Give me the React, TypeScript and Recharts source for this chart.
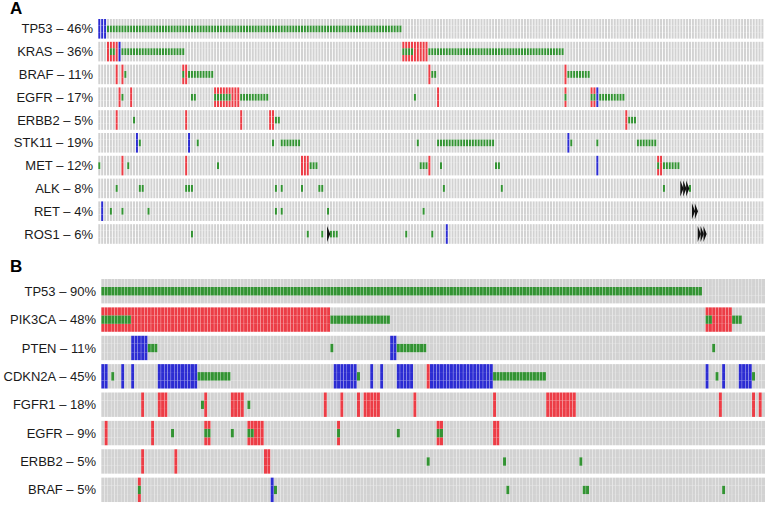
import { Bar, BarChart, XAxis, YAxis } from "recharts";

type Spec = (number | [number, number])[];

// Panel A: 230 samples, 10 genes
const GENES_A = ["TP53", "KRAS", "BRAF", "EGFR", "ERBB2", "STK11", "MET", "ALK", "RET", "ROS1"];
const PCT_A = [46, 36, 11, 17, 5, 19, 12, 8, 4, 6];
const SAMPLES_A = 230;
const AMP_A: Spec[] = [
  [],
  [[3, 6], [105, 113]],
  [6, 8, [29, 30], 114, 161],
  [7, 11, [40, 48], 117, 161, [170, 171]],
  [6, 30, 49, [59, 60], 182],
  [],
  [8, 30, [70, 72], 114, [193, 194]],
  [],
  [],
  [],
];
const DEL_A: Spec[] = [[[0, 2]], [7], [], [172], [], [13, 31, 162], [172], [], [1], [120]];
const MUT_A: Spec[] = [
  [[3, 104]],
  [[4, 5], [8, 29], [105, 108], [114, 160]],
  [9, 29, [31, 39], [115, 116], [162, 169]],
  [8, [32, 33], [40, 45], [49, 58], 109, 161, [170, 171], [173, 181]],
  [12, [61, 62], [183, 185]],
  [14, 34, 60, [63, 69], 110, [117, 136], 163, 172, [186, 192]],
  [0, 10, 41, [73, 75], [111, 113], 118, [137, 138], 193, [195, 200]],
  [6, [14, 15], [30, 32], 61, 63, 70, [76, 77], 119, 139, 195, 204],
  [4, 8, 17, 61, 63, 79, 112],
  [32, 72, 77, [80, 82], 106, 115],
];
const FUS_A: Spec[] = [[], [], [], [], [], [], [], [[201, 203]], [[205, 206]], [79, [207, 209]]];

// Panel B: 200 samples, 8 genes
const GENES_B = ["TP53", "PIK3CA", "PTEN", "CDKN2A", "FGFR1", "EGFR", "ERBB2", "BRAF"];
const PCT_B = [90, 48, 11, 45, 18, 9, 5, 5];
const SAMPLES_B = 200;
const AMP_B: Spec[] = [
  [],
  [[0, 68], [182, 189]],
  [],
  [98],
  [12, [17, 19], 31, [39, 42], 67, 72, 77, [79, 83], 94, 118, [134, 142], 186, 196, 198],
  [1, 15, [31, 32], [44, 48], 71, [101, 102], [118, 119]],
  [12, 22, [49, 50]],
  [11],
];
const DEL_B: Spec[] = [
  [],
  [],
  [[9, 13], [87, 88]],
  [[0, 1], 6, 9, [17, 28], [70, 76], 81, 84, [89, 93], [99, 117], 182, 187, [192, 195]],
  [],
  [],
  [],
  [51],
];
const MUT_B: Spec[] = [
  [[0, 180]],
  [[0, 8], [69, 86], [182, 183], [190, 192]],
  [[14, 16], 69, [89, 97], 184],
  [3, [29, 38], 77, [118, 133], 185, 196],
  [30, 44],
  [21, [31, 32], 39, [44, 45], 71, 89, [101, 102]],
  [98, 121, 144],
  [11, 52, 122, [145, 146], 187],
];
const FUS_B: Spec[] = [[], [], [], [], [], [], [], []];

const RED = "#ec3d46";
const BLUE = "#2c2cd2";
const GREEN = "#339333";
const GRAY = "#d2d2d2";
const FONT = "'Liberation Sans', Arial, sans-serif";

const SEG = { gap: 0.14, lo: 0.28, mid: 0.3, hi: 0.28 };

const toSet = (spec: Spec) => {
  const out = new Set<number>();
  spec.forEach((e) => {
    if (Array.isArray(e)) {
      for (let i = e[0]; i <= e[1]; i++) out.add(i);
    } else out.add(e);
  });
  return out;
};

type PanelProps = {
  genes: string[];
  pcts: number[];
  n: number;
  amp: Spec[];
  del: Spec[];
  mut: Spec[];
  fus: Spec[];
  axisWidth: number;
  height: number;
  margin: { top: number; right: number; bottom: number; left: number };
};

function OncoPanel({ genes, pcts, n, amp, del, mut, fus, axisWidth, height, margin }: PanelProps) {
  const ampS = amp.map(toSet);
  const delS = del.map(toSet);
  const mutS = mut.map(toSet);
  const fusS = fus.map(toSet);
  const rows = genes.length;

  const data = Array.from({ length: n }, (_, s) => {
    const r: Record<string, number> = { s };
    genes.forEach((_, gi) => {
      r[`g${gi}_gap`] = SEG.gap;
      r[`g${gi}_lo`] = SEG.lo;
      r[`g${gi}_mid`] = SEG.mid;
      r[`g${gi}_hi`] = SEG.hi;
    });
    return r;
  });

  const outerFill = (gi: number, s: number) =>
    ampS[gi].has(s) ? RED : delS[gi].has(s) ? BLUE : GRAY;

  const loShape = (gi: number) => (p: any) => (
    <rect x={p.x} y={p.y} width={p.width} height={p.height} fill={outerFill(gi, p.payload.s)} />
  );
  const midShape = (gi: number) => (p: any) => (
    <rect
      x={p.x}
      y={p.y}
      width={p.width}
      height={p.height}
      fill={mutS[gi].has(p.payload.s) ? GREEN : outerFill(gi, p.payload.s)}
    />
  );
  const hiShape = (gi: number) => (p: any) => {
    const s = p.payload.s;
    const h = p.height;
    return (
      <g>
        <rect x={p.x} y={p.y} width={p.width} height={h} fill={outerFill(gi, s)} />
        {fusS[gi].has(s) && (
          <polygon
            points={`${p.x},${p.y + 0.3 * h} ${p.x + 1.6 * p.width},${p.y + 1.55 * h} ${p.x},${p.y + 2.8 * h}`}
            fill="#111"
          />
        )}
      </g>
    );
  };

  // stacking goes bottom-up, so the last gene comes first
  const stackOrder = genes.map((_, k) => rows - 1 - k);
  const ticks = genes.map((_, k) => k + SEG.gap + (SEG.lo + SEG.mid + SEG.hi) / 2);
  const label = (v: number) => {
    const gi = rows - 1 - Math.floor(v);
    return `${genes[gi]} – ${pcts[gi]}%`;
  };

  return (
    <BarChart
      width={774}
      height={height}
      data={data}
      margin={margin}
      barCategoryGap="10%"
      barGap={0}
    >
      <XAxis dataKey="s" type="category" hide />
      <YAxis
        type="number"
        domain={[0, rows]}
        ticks={ticks}
        interval={0}
        width={axisWidth}
        axisLine={false}
        tickLine={false}
        tickSize={0}
        tickMargin={5}
        tick={(p: any) => (
          <text
            x={p.x}
            y={p.y}
            dy="0.35em"
            textAnchor="end"
            fill="#1a1a1a"
            fontSize={13}
            fontFamily={FONT}
          >
            {label(p.payload.value)}
          </text>
        )}
      />
      {stackOrder.map((gi) => [
        <Bar key={`g${gi}_gap`} dataKey={`g${gi}_gap`} stackId="a" fill="transparent" isAnimationActive={false} shape={() => <g />} />,
        <Bar key={`g${gi}_lo`} dataKey={`g${gi}_lo`} stackId="a" fill={GRAY} isAnimationActive={false} shape={loShape(gi)} />,
        <Bar key={`g${gi}_mid`} dataKey={`g${gi}_mid`} stackId="a" fill={GRAY} isAnimationActive={false} shape={midShape(gi)} />,
        <Bar key={`g${gi}_hi`} dataKey={`g${gi}_hi`} stackId="a" fill={GRAY} isAnimationActive={false} shape={hiShape(gi)} />,
      ])}
    </BarChart>
  );
}

export default function App() {
  const letter = { position: "absolute" as const, left: 10, fontFamily: FONT, fontWeight: 700, fontSize: 17, lineHeight: "17px" };
  return (
    <div style={{ position: "absolute", left: 0, top: 0, width: 774, height: 506, background: "#fff" }}>
      <div style={{ ...letter, top: 0 }}>A</div>
      <div style={{ ...letter, top: 258 }}>B</div>
      <div style={{ position: "absolute", left: 0, top: 0 }}>
        <OncoPanel
          genes={GENES_A}
          pcts={PCT_A}
          n={SAMPLES_A}
          amp={AMP_A}
          del={DEL_A}
          mut={MUT_A}
          fus={FUS_A}
          axisWidth={98}
          height={250}
          margin={{ top: 19, right: 10, bottom: 3, left: 0 }}
        />
      </div>
      <div style={{ position: "absolute", left: 0, top: 260 }}>
        <OncoPanel
          genes={GENES_B}
          pcts={PCT_B}
          n={SAMPLES_B}
          amp={AMP_B}
          del={DEL_B}
          mut={MUT_B}
          fus={FUS_B}
          axisWidth={101}
          height={246}
          margin={{ top: 19, right: 9, bottom: 0, left: 0 }}
        />
      </div>
    </div>
  );
}
